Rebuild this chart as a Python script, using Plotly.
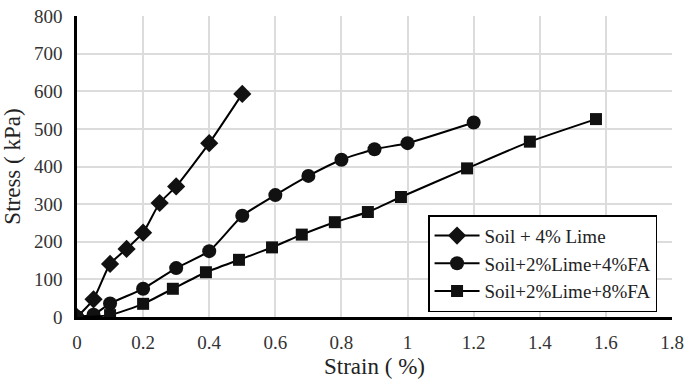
import plotly.graph_objects as go

lime_x = [0, 0.05, 0.1, 0.15, 0.2, 0.25, 0.3, 0.4, 0.5]
lime_y = [0, 47, 141, 181, 224, 303, 347, 462, 593]

fa4_x = [0, 0.05, 0.1, 0.2, 0.3, 0.4, 0.5, 0.6, 0.7, 0.8, 0.9, 1.0, 1.2]
fa4_y = [0, 6, 36, 75, 130, 175, 269, 324, 375, 418, 446, 462, 517]

fa8_x = [0, 0.1, 0.2, 0.29, 0.39, 0.49, 0.59, 0.68, 0.78, 0.88, 0.98, 1.18, 1.37, 1.57]
fa8_y = [0, 5, 35, 75, 119, 152, 185, 219, 252, 279, 319, 395, 466, 526]

names = ["Soil + 4% Lime", "Soil+2%Lime+4%FA", "Soil+2%Lime+8%FA"]
symbols = ["diamond", "circle", "square"]
sizes = [14, 14, 12]

FONT = "Liberation Serif"
fig = go.Figure()
for i, (x, y) in enumerate([(lime_x, lime_y), (fa4_x, fa4_y), (fa8_x, fa8_y)]):
    fig.add_trace(go.Scatter(
        x=x, y=y, mode="lines+markers", name=names[i], legendgroup=f"g{i}",
        line=dict(color="black", width=2, shape="spline", smoothing=0.5),
        marker=dict(symbol=symbols[i], size=sizes[i], color="#111111"),
    ))

fig.update_layout(
    width=685, height=379,
    margin=dict(l=77, r=13, t=16, b=62),
    paper_bgcolor="white", plot_bgcolor="white",
    font=dict(family=FONT, size=19, color="#222"),
    showlegend=True,
    legend=dict(
        x=0.59, y=0.016, xanchor="left", yanchor="bottom",
        bordercolor="black", borderwidth=1.5, bgcolor="white",
        font=dict(family=FONT, size=19, color="#222"),
        traceorder="grouped", tracegroupgap=0, itemwidth=45,
    ),
    xaxis=dict(
        range=[0, 1.8], dtick=0.2, tick0=0, automargin=False,
        showgrid=True, gridcolor="#dcdcdc", gridwidth=1.5,
        showline=True, linecolor="black", linewidth=2.5,
        zeroline=False, ticks="outside", ticklen=6, tickcolor="rgba(0,0,0,0)",
        title=dict(text="Strain ( %)", font=dict(family=FONT, size=23, color="#222"), standoff=8),
        tickfont=dict(family=FONT, size=19, color="#333"),
    ),
    yaxis=dict(
        range=[0, 800], dtick=100, tick0=0, automargin=False,
        showgrid=True, gridcolor="#dcdcdc", gridwidth=1.5,
        showline=True, linecolor="black", linewidth=2.5,
        zeroline=False, ticks="outside", ticklen=8, tickcolor="rgba(0,0,0,0)",
        title=dict(text="Stress ( kPa)", font=dict(family=FONT, size=23, color="#222"), standoff=8),
        tickfont=dict(family=FONT, size=19, color="#333"),
    ),
)

fig.write_html("out.html")
